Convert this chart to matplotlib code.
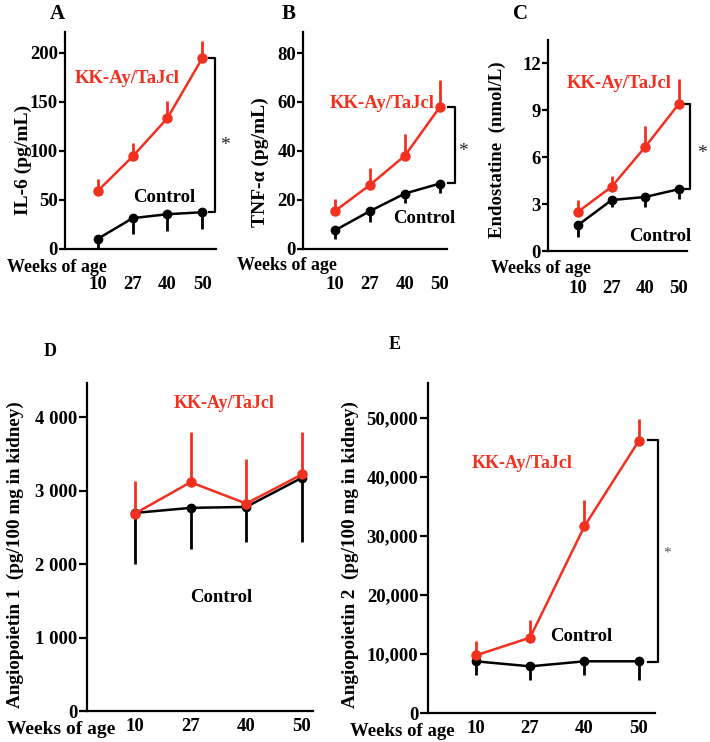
import numpy as np
import matplotlib.pyplot as plt

plt.rcParams['font.family'] = 'serif'
plt.rcParams['font.serif'] = ['Liberation Serif', 'DejaVu Serif']
plt.rcParams['font.weight'] = 'bold'

RED = '#f2301f'
W, H = 710, 742

weeks = ['10', '27', '40', '50']

# A: IL-6 (pg/mL)
il6_kk = [59, 94, 133, 194]
il6_kk_err = [12, 14, 18, 18]
il6_ctrl = [10, 31, 35, 37]
il6_ctrl_err = [9, 16, 17, 17]

# B: TNF-alpha (pg/mL)
tnf_kk = [15.3, 26, 38, 58]
tnf_kk_err = [5, 7, 9, 11]
tnf_ctrl = [7.4, 15.3, 22.5, 26.6]
tnf_ctrl_err = [3.4, 4.5, 4, 4]

# C: Endostatine (nmol/L)
endo_kk = [2.5, 4.1, 6.65, 9.4]
endo_kk_err = [0.75, 0.7, 1.35, 1.6]
endo_ctrl = [1.65, 3.25, 3.45, 3.95]
endo_ctrl_err = [0.75, 0.45, 0.65, 0.65]

# D: Angiopoietin 1
ang1_kk = [2686, 3113, 2823, 3218]
ang1_kk_err = [441, 682, 609, 577]
ang1_ctrl = [2695, 2764, 2777, 3173]
ang1_ctrl_err = [695, 555, 482, 878]

# E: Angiopoietin 2
ang2_kk = [9770, 12770, 31640, 46100]
ang2_kk_err = [2380, 3050, 4520, 3790]
ang2_ctrl = [8760, 7910, 8760, 8760]
ang2_ctrl_err = [2370, 2260, 2370, 3110]


def px_axes(l, t, r, b):
    return fig.add_axes([l / W, 1 - b / H, (r - l) / W, (b - t) / H])


def ftext(x, y, s, **kw):
    kw.setdefault('ha', 'center')
    kw.setdefault('va', 'center')
    fig.text(x / W, 1 - y / H, s, **kw)


def panel(ax, kk, kk_err, ctrl, ctrl_err, ylim, xlim, yticks, ylabels, pad, tlen):
    x = np.arange(len(weeks))
    z = np.zeros(len(weeks))
    ax.errorbar(x, ctrl, yerr=[ctrl_err, z], color='black', lw=1.8,
                marker='o', ms=6, elinewidth=2, capsize=0, clip_on=False, zorder=3)
    ax.errorbar(x, kk, yerr=[z, kk_err], color=RED, lw=1.8,
                marker='o', ms=6.5, elinewidth=2, capsize=0, clip_on=False, zorder=4)
    ax.set_xlim(*xlim)
    ax.set_ylim(*ylim)
    ax.set_xticks(x)
    ax.set_xticklabels(weeks)
    ax.set_yticks(yticks)
    ax.set_yticklabels(ylabels)
    for s in ['top', 'right']:
        ax.spines[s].set_visible(False)
    for s in ['left', 'bottom']:
        ax.spines[s].set_linewidth(1.6)
    ax.tick_params(axis='x', length=0, pad=pad, labelsize=13.5)
    ax.tick_params(axis='y', length=tlen, width=1.6, direction='out',
                   labelsize=13.5, pad=1)


def bracket(ax, x0, x1, ytop, ybot, xs, ys, fs=14, color='#222222'):
    ax.plot([x0, x1, x1, x0], [ytop, ytop, ybot, ybot], color='black',
            lw=1.6, clip_on=False)
    ax.text(xs, ys, '*', ha='center', va='center', fontsize=fs,
            fontweight='normal', color=color)


fig = plt.figure(figsize=(W / 100, H / 100), dpi=100)

# Panel A
axA = px_axes(65, 32, 216, 248.5)
panel(axA, il6_kk, il6_kk_err, il6_ctrl, il6_ctrl_err, (0, 221), (-0.95, 3.4),
      [0, 50, 100, 150, 200], ['0', '50', '100', '150', '200'], 20, 4)
bracket(axA, 3.2, 3.37, 194, 37, 3.66, 105)
axA.text(-0.66, 174, 'KK-Ay/TaJcl', color=RED, fontsize=13.5, ha='left', va='center')
axA.text(1.01, 52, 'Control', color='black', fontsize=13.5, ha='left', va='center')
ftext(23, 160, 'IL-6 (pg/mL)', rotation=90, fontsize=14)
ftext(57, 14, 'A', fontsize=15)
ftext(57, 267, 'Weeks of age', fontsize=13)

# Panel B
axB = px_axes(303, 32, 447, 248.5)
panel(axB, tnf_kk, tnf_kk_err, tnf_ctrl, tnf_ctrl_err, (0, 88.6), (-0.91, 3.2),
      [0, 20, 40, 60, 80], ['0', '20', '40', '60', '80'], 20, 4)
bracket(axB, 3.23, 3.43, 58, 26.7, 3.66, 39.6)
axB.text(-0.14, 59.3, 'KK-Ay/TaJcl', color=RED, fontsize=13.5, ha='left', va='center')
axB.text(1.66, 12.1, 'Control', color='black', fontsize=13.5, ha='left', va='center')
ftext(260, 162, 'TNF-\u03b1 (pg/mL)', rotation=90, fontsize=14)
ftext(289, 14, 'B', fontsize=15)
ftext(287, 266, 'Weeks of age', fontsize=13)

# Panel C
axC = px_axes(548, 40, 687, 251)
panel(axC, endo_kk, endo_kk_err, endo_ctrl, endo_ctrl_err, (0, 13.47), (-0.89, 3.24),
      [0, 3, 6, 9, 12], ['0', '3', '6', '9', '12'], 21, 4)
bracket(axC, 3.18, 3.33, 9.4, 3.95, 3.68, 6.2)
axC.text(-0.33, 10.7, 'KK-Ay/TaJcl', color=RED, fontsize=13.5, ha='left', va='center')
axC.text(1.52, 0.9, 'Control', color='black', fontsize=13.5, ha='left', va='center')
ftext(497, 150, 'Endostatine  (nmol/L)', rotation=90, fontsize=13.5)
ftext(541, 269, 'Weeks of age', fontsize=13)
ftext(520, 14, 'C', fontsize=15)

# Panel D
axD = px_axes(87, 383, 313, 711)
panel(axD, ang1_kk, ang1_kk_err, ang1_ctrl, ang1_ctrl_err, (0, 4463), (-0.86, 3.2),
      [0, 1000, 2000, 3000, 4000], ['0', '1 000', '2 000', '3 000', '4 000'], 5, 6)
axD.text(1.6, 4190, 'KK-Ay/TaJcl', color=RED, fontsize=13, ha='center', va='center')
axD.text(1.55, 1550, 'Control', color='black', fontsize=13.5, ha='center', va='center')
ftext(15, 555, 'Angiopoietin 1  (pg/100 mg in kidney)', rotation=90, fontsize=13.8)
ftext(50, 351, 'D', fontsize=13)
ftext(61, 730, 'Weeks of age', fontsize=14)

# Panel E
axE = px_axes(428, 383, 655, 713)
panel(axE, ang2_kk, ang2_kk_err, ang2_ctrl, ang2_ctrl_err, (0, 55930), (-0.88, 3.3),
      [0, 10000, 20000, 30000, 40000, 50000],
      ['0', '10,000', '20,000', '30,000', '40,000', '50,000'], 5, 6)
bracket(axE, 3.17, 3.35, 46270, 8640, 3.52, 27100, fs=11, color='#555555')
axE.text(0.85, 42300, 'KK-Ay/TaJcl', color=RED, fontsize=13, ha='center', va='center')
axE.text(1.95, 13000, 'Control', color='black', fontsize=13.5, ha='center', va='center')
ftext(350, 555, 'Angiopoietin 2  (pg/100 mg in kidney)', rotation=90, fontsize=13.8)
ftext(395, 345, 'E', fontsize=13)
ftext(402, 732, 'Weeks of age', fontsize=13.5)

fig.savefig('out.png', dpi=100)
